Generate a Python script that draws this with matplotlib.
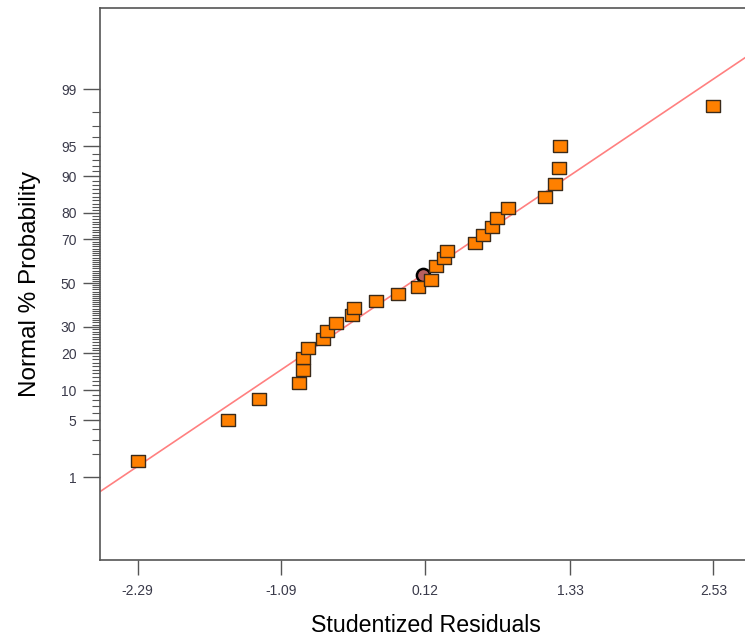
import numpy as np
import matplotlib
matplotlib.use("Agg")
from matplotlib import pyplot as plt
from statistics import NormalDist

plt.rcParams['font.family'] = ['Liberation Sans', 'DejaVu Sans']

nd = NormalDist()

# studentized residuals and their normal % probability
resid = [-2.29, -1.53, -1.27, -0.94, -0.905, -0.905, -0.865, -0.74, -0.705,
         -0.63, -0.495, -0.48, -0.295, -0.11, 0.055, 0.165, 0.21, 0.275, 0.30,
         0.535, 0.60, 0.675, 0.72, 0.81, 1.12, 1.205, 1.24, 1.245, 2.53]
prob = [1.67, 5, 8.33, 11.67, 15, 18.33, 21.67, 25, 28.33, 31.67, 35, 38.33,
        41.67, 45, 48.33, 51.67, 58.33, 61.67, 65, 68.33, 71.67, 75, 78.33,
        81.67, 85, 88.33, 91.67, 95, 98.33]

# the one point drawn as a circle (sits behind the squares)
circ_resid = [0.10]
circ_prob = [54.0]

# reference line (z = slope * residual + intercept)
line_slope = 0.964
line_icpt = 0.01

ytick_pct = [1, 5, 10, 20, 30, 50, 70, 80, 90, 95, 99]
xtick_vals = [-2.29, -1.09, 0.12, 1.33, 2.53]


def to_z(p):
    return [nd.inv_cdf(v / 100.0) for v in p]


fig = plt.figure(figsize=(7.45, 6.37), dpi=100)
ax = fig.add_axes([100 / 745, 77 / 637, 645 / 745, 552 / 637])

xlo, xhi = -2.604, 2.794
xs = np.array([xlo, xhi])
ax.plot(xs, line_slope * xs + line_icpt, color='#ff8080', lw=1.2, zorder=1)

ax.plot(circ_resid, to_z(circ_prob), 'o', ms=9.5, mfc='#b86060', mec='black',
        mew=1.8, zorder=2)

rect = [(-1.2, -1), (1.2, -1), (1.2, 1), (-1.2, 1), (-1.2, -1)]
ax.plot(resid, to_z(prob), ls='none', marker=rect, ms=10.2, mfc='#ff8000',
        mec='#3a2a1a', mew=1.0, zorder=3)

ax.set_xlim(xlo, xhi)
ax.set_ylim(-3.32, 3.30)

ax.set_xticks(xtick_vals)
ax.set_xticklabels(['%.2f' % v for v in xtick_vals])
ax.set_yticks(to_z(ytick_pct))
ax.set_yticklabels([str(v) for v in ytick_pct])

minor_pct = [p for p in range(2, 99) if p not in ytick_pct]
ax.set_yticks(to_z(minor_pct), minor=True)

ax.tick_params(axis='y', which='major', length=12, width=1.0, color='#555555',
               labelsize=10, labelcolor='#3a3a4a', pad=5)
ax.tick_params(axis='y', which='minor', length=6, width=0.8, color='#555555')
ax.tick_params(axis='x', which='major', length=11, width=1.0, color='#555555',
               labelsize=10, labelcolor='#3a3a4a', pad=6)

for s in ['left', 'bottom', 'top']:
    ax.spines[s].set_color('#555555')
    ax.spines[s].set_linewidth(1.2)
ax.spines['right'].set_visible(False)

ax.set_xlabel('Studentized Residuals', fontsize=16.7)
ax.xaxis.set_label_coords(0.506, -0.097)
ax.set_ylabel('Normal % Probability', fontsize=17.5, labelpad=14)

fig.savefig('out.png', dpi=100)
